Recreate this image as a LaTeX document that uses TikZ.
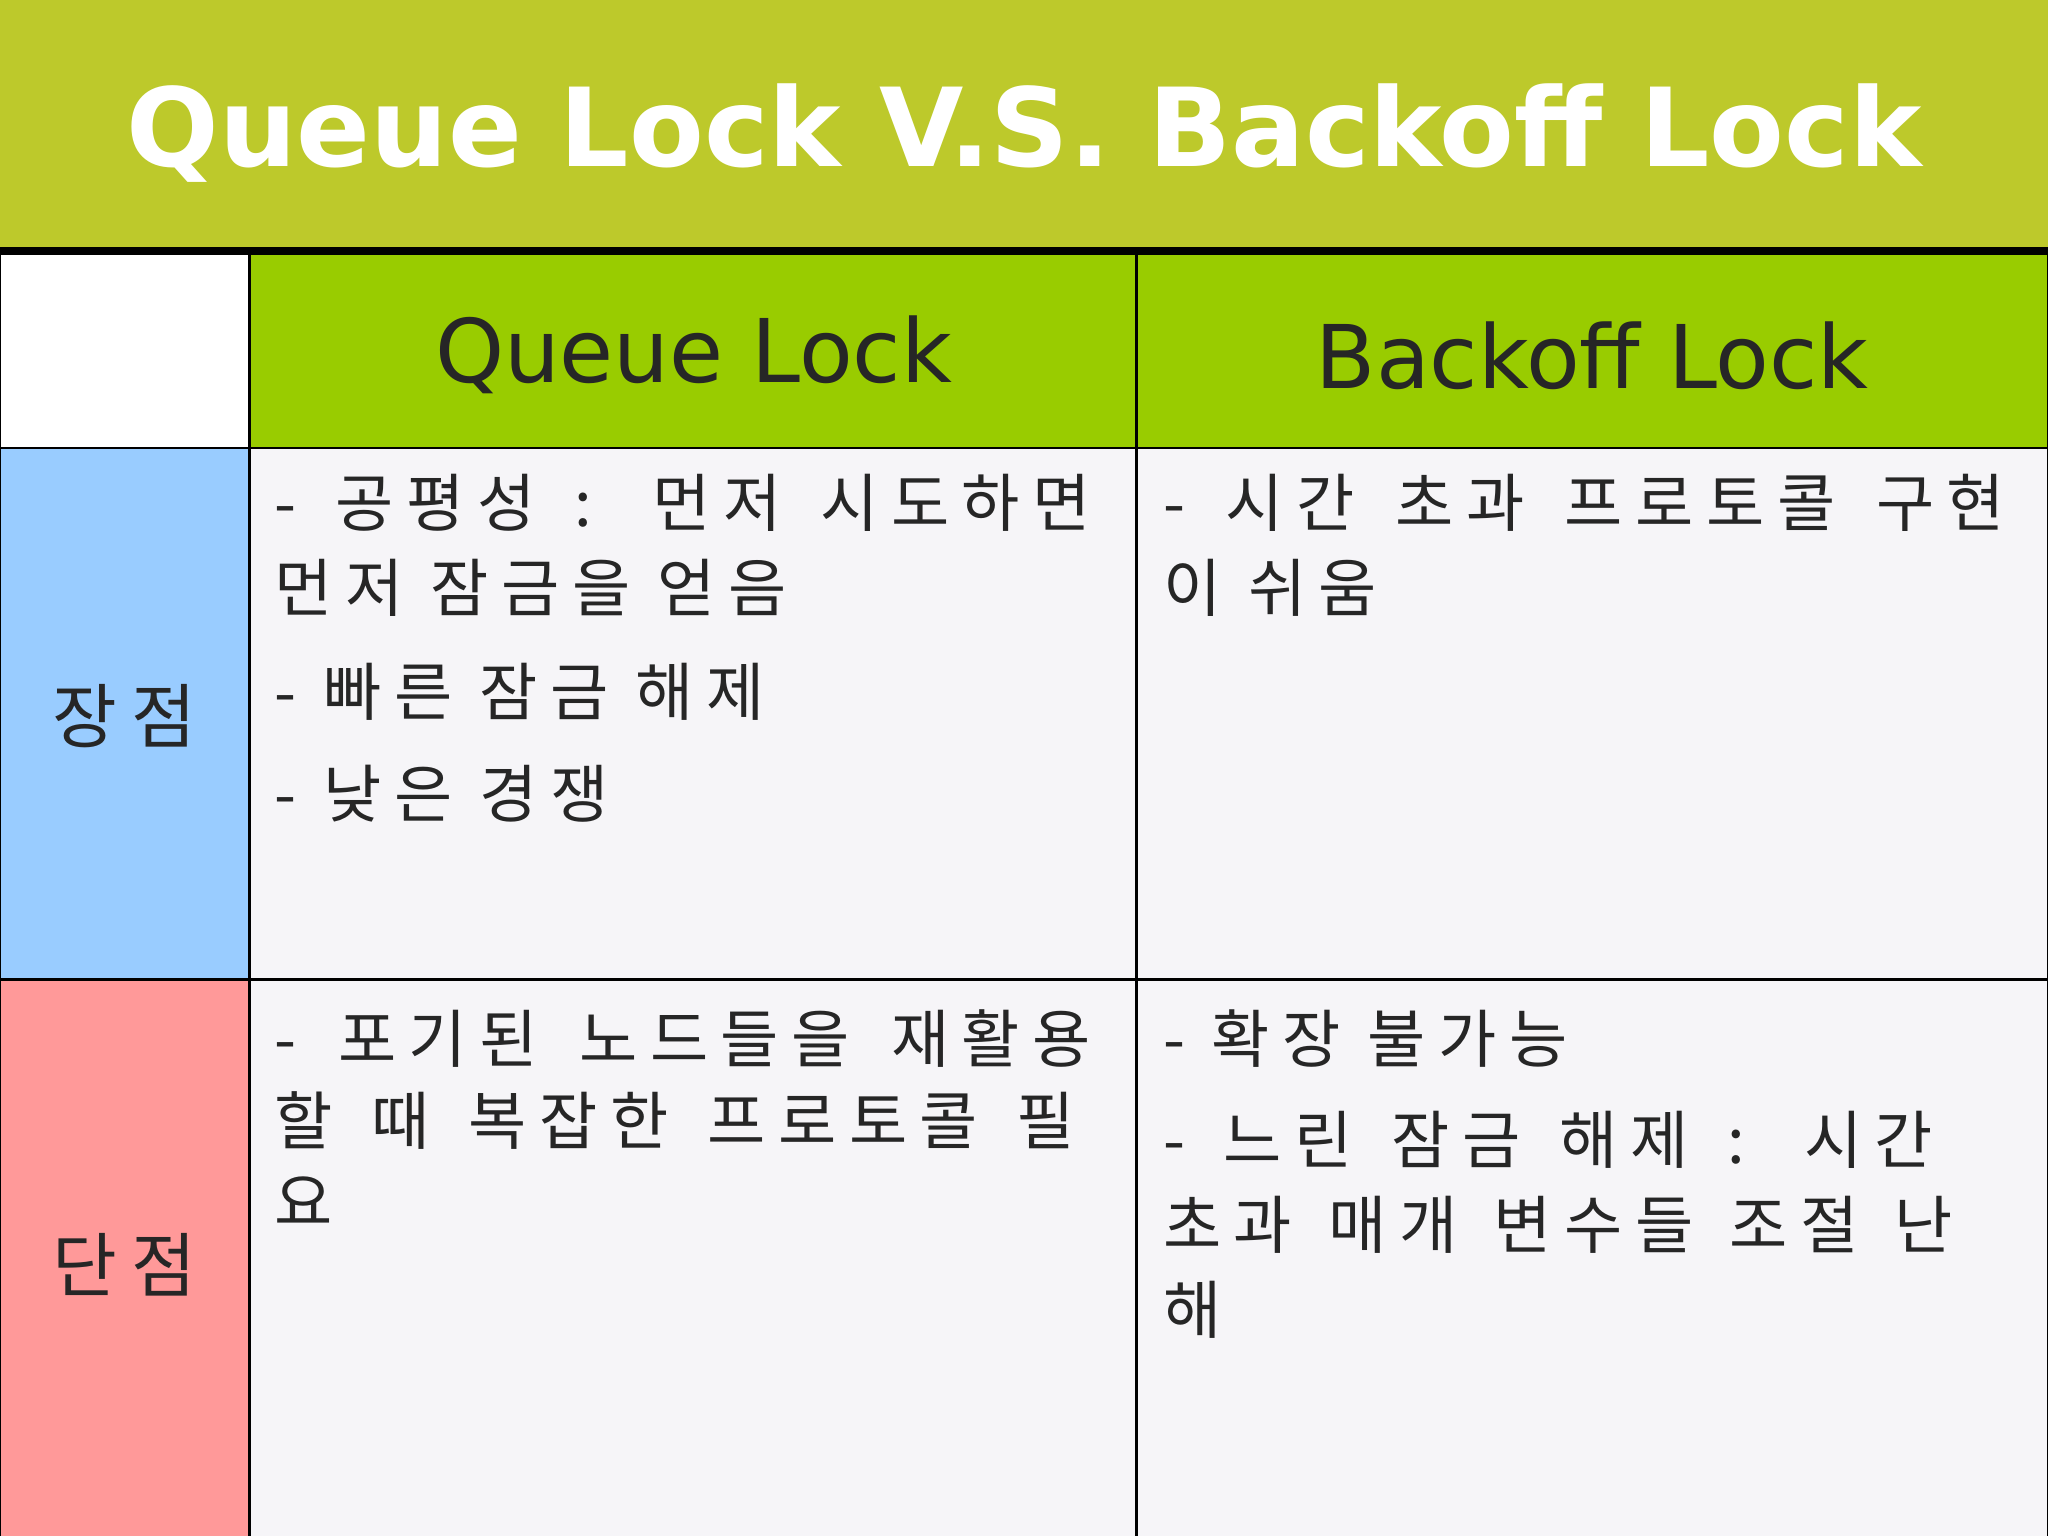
\documentclass[tikz,border=0pt]{standalone}
\usepackage{fontspec}
\setmainfont{DejaVu Sans}
\newfontfamily\kr{Noto Sans CJK KR}[LetterSpace=20]
\definecolor{titlebg}{HTML}{BDC92B}
\definecolor{hdr}{HTML}{99CC00}
\definecolor{pro}{HTML}{99CCFF}
\definecolor{con}{HTML}{FF9999}
\definecolor{cell}{HTML}{F6F5F8}
\tikzset{
 krline/.style={anchor=west,inner sep=0pt,font=\kr\fontsize{18}{20}\selectfont,text=black!85},
 hdrtxt/.style={font=\fontsize{25}{28}\selectfont,text=black!85},
 side/.style={font=\kr\fontsize{20}{22}\selectfont,text=black!85}
}
\newcommand{\jq}[1]{\makebox[8.16cm][s]{#1}}
\newcommand{\jb}[1]{\makebox[8.42cm][s]{#1}}
\begin{document}
\begin{tikzpicture}[x=0.013061cm,y=-0.013061cm]
\useasboundingbox (0,0) rectangle (1568,1176);
\fill[titlebg] (0,0) rectangle (1568,192);
\node[text=white,font=\bfseries\fontsize{31}{34}\selectfont] (title) at (784,102) {Queue Lock V.S. Backoff Lock};
\fill[white] (0,192) rectangle (191,343);
\fill[hdr] (191,192) rectangle (1568,343);
\fill[pro] (0,343) rectangle (191,750);
\fill[con] (0,750) rectangle (191,1176);
\fill[cell] (191,343) rectangle (1568,1176);
\draw[line width=0.7pt] (0,192) rectangle (1568,1180);
\draw[line width=0.7pt] (191,192) -- (191,1176) (870,192) -- (870,1176)
  (0,343) -- (1568,343) (0,750) -- (1568,750);
\draw[line width=2.2pt] (0,192) -- (1568,192);
\node[hdrtxt] (hq) at (531,272) {Queue Lock};
\node[hdrtxt] (hb) at (1219,272) {Backoff Lock};
\node[side] (pros) at (95,548) {장점};
\node[side] (cons) at (95,968) {단점};
\node[krline] (a1) at (210,385) {\jq{- 공평성 : 먼저 시도하면}};
\node[krline] (a2) at (210,450) {먼저 잠금을 얻음};
\node[krline] (a3) at (210,530) {- 빠른 잠금 해제};
\node[krline] (a4) at (210,608) {- 낮은 경쟁};
\node[krline] (b1) at (890,385) {\jb{- 시간 초과 프로토콜 구현}};
\node[krline] (b2) at (890,450) {이 쉬움};
\node[krline] (c1) at (210,795) {\jq{- 포기된 노드들을 재활용}};
\node[krline] (c2) at (210,858) {\makebox[8.0cm][s]{할 때 복잡한 프로토콜 필}};
\node[krline] (c3) at (210,920) {요};
\node[krline] (d1) at (890,795) {- 확장 불가능};
\node[krline] (d2) at (890,873) {\makebox[7.7cm][s]{- 느린 잠금 해제 : 시간}};
\node[krline] (d3) at (890,938) {\makebox[7.9cm][s]{초과 매개 변수들 조절 난}};
\node[krline] (d4) at (890,1003) {해};
\end{tikzpicture}
\end{document}
